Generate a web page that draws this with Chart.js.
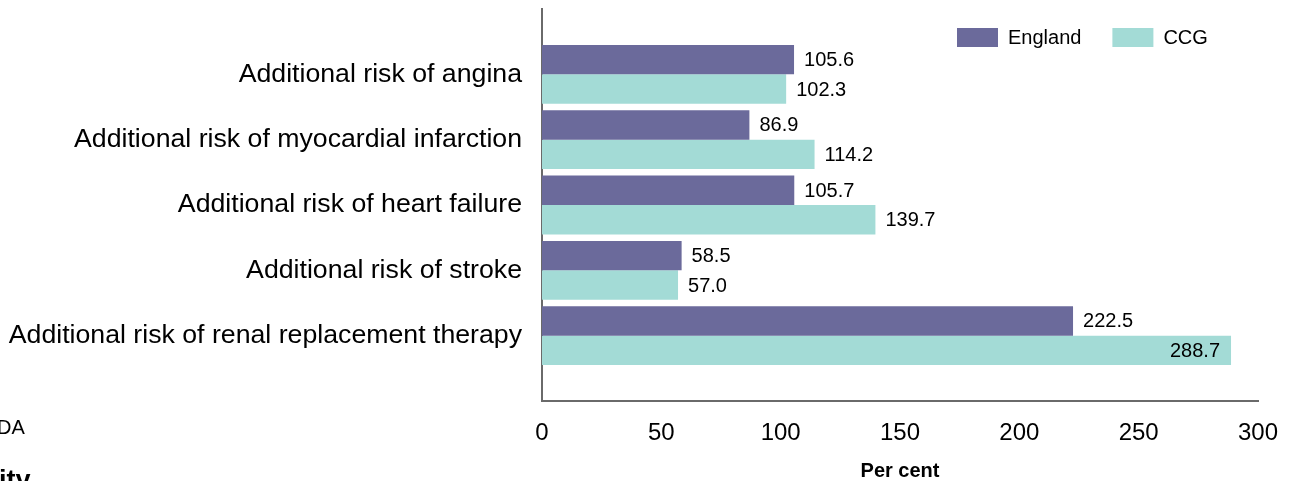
<!DOCTYPE html>
<html>
<head>
<meta charset="utf-8">
<script src="https://cdn.jsdelivr.net/npm/chart.js@4.4.1/dist/chart.umd.min.js"></script>
<style>
  html, body { margin: 0; padding: 0; background: #ffffff; }
  #wrap { position: relative; width: 1293px; height: 481px; overflow: hidden; background: #fff; }
  canvas { position: absolute; left: 0; top: 0; }
  .frag { position: absolute; font-family: "Liberation Sans", Arial, sans-serif; color: #000; white-space: nowrap; line-height: 1; }
</style>
</head>
<body>
<div id="wrap">
  <canvas id="c" width="1293" height="481"></canvas>
  <div class="frag" style="left:-3px; top:417px; font-size:20px;">DA</div>
  <div class="frag" style="left:-1px; top:467px; font-size:27px; font-weight:bold;">ity</div>
</div>
<script>
const categories = [
  'Additional risk of angina',
  'Additional risk of myocardial infarction',
  'Additional risk of heart failure',
  'Additional risk of stroke',
  'Additional risk of renal replacement therapy'
];
const englandValues = [105.6, 86.9, 105.7, 58.5, 222.5];
const ccgValues = [102.3, 114.2, 139.7, 57.0, 288.7];
const seriesNames = ['England', 'CCG'];
const xTicks = [0, 50, 100, 150, 200, 250, 300];
const xTitle = 'Per cent';

const FONT = '"Liberation Sans", Arial, sans-serif';
const colors = ['#6b6a9b', '#a3dbd6'];

// pad with empty slots at both ends so category centres fall where the reference draws them
const labels = [''].concat(categories, ['']);
const pad = arr => [null].concat(arr, [null]);

const valueLabels = {
  id: 'valueLabels',
  afterDatasetsDraw(chart) {
    const ctx = chart.ctx;
    const area = chart.chartArea;
    ctx.save();
    ctx.font = '20px ' + FONT;
    ctx.fillStyle = '#000';
    ctx.textBaseline = 'middle';
    chart.data.datasets.forEach((ds, di) => {
      const meta = chart.getDatasetMeta(di);
      meta.data.forEach((bar, i) => {
        const v = ds.data[i];
        if (v === null || v === undefined) return;
        const txt = v.toFixed(1);
        const w = ctx.measureText(txt).width;
        if (bar.x + 10 + w > area.right - 5) {
          ctx.textAlign = 'right';
          ctx.fillText(txt, bar.x - 11, bar.y + 1);
        } else {
          ctx.textAlign = 'left';
          ctx.fillText(txt, bar.x + 10, bar.y + 1);
        }
      });
    });
    ctx.restore();
  }
};

const customLegend = {
  id: 'customLegend',
  afterDraw(chart) {
    const ctx = chart.ctx;
    ctx.save();
    ctx.font = '20px ' + FONT;
    ctx.textBaseline = 'middle';
    ctx.textAlign = 'left';
    let x = 957;
    const yTop = 28, boxW = 41, boxH = 19;
    chart.data.datasets.forEach((ds) => {
      ctx.fillStyle = ds.backgroundColor;
      ctx.fillRect(x, yTop, boxW, boxH);
      ctx.fillStyle = '#000';
      ctx.fillText(ds.label, x + boxW + 10, yTop + boxH / 2 + 1);
      x += boxW + 10 + ctx.measureText(ds.label).width + 31;
    });
    ctx.restore();
  }
};

new Chart(document.getElementById('c'), {
  type: 'bar',
  data: {
    labels: labels,
    datasets: [
      { label: seriesNames[0], data: pad(englandValues), backgroundColor: colors[0], borderWidth: 0 },
      { label: seriesNames[1], data: pad(ccgValues), backgroundColor: colors[1], borderWidth: 0 }
    ]
  },
  options: {
    indexAxis: 'y',
    responsive: false,
    animation: false,
    devicePixelRatio: 1,
    layout: { padding: { top: 9, right: 35, left: 0, bottom: 0 } },
    datasets: { bar: { categoryPercentage: 0.9, barPercentage: 1.0 } },
    plugins: {
      legend: { display: false },
      tooltip: { enabled: false }
    },
    scales: {
      y: {
        type: 'category',
        offset: false,
        grid: { display: false, drawTicks: false },
        border: { display: true, color: '#6a6a6a', width: 2 },
        ticks: {
          autoSkip: false,
          padding: 20,
          color: '#000',
          font: { family: FONT, size: 26.7 }
        },
        afterFit(scale) {
          scale.width = 542;
          scale.paddingTop = 0; scale.paddingBottom = 0;
          scale.paddingLeft = 0; scale.paddingRight = 0;
        }
      },
      x: {
        type: 'linear',
        min: xTicks[0],
        max: xTicks[xTicks.length - 1],
        afterBuildTicks(scale) { scale.ticks = xTicks.map(v => ({ value: v })); },
        grid: { display: false, drawTicks: false },
        border: { display: true, color: '#6a6a6a', width: 2 },
        ticks: {
          padding: 18,
          color: '#000',
          font: { family: FONT, size: 24 },
          maxRotation: 0
        },
        title: {
          display: true,
          text: xTitle,
          color: '#000',
          font: { family: FONT, size: 20, weight: 'bold', lineHeight: 1.0 },
          padding: { top: 0, bottom: 0 }
        },
        afterFit(scale) {
          scale.height = 80;
          scale.paddingTop = 0; scale.paddingBottom = 0;
          scale.paddingLeft = 0; scale.paddingRight = 0;
        }
      }
    }
  },
  plugins: [valueLabels, customLegend]
});
</script>
</body>
</html>
